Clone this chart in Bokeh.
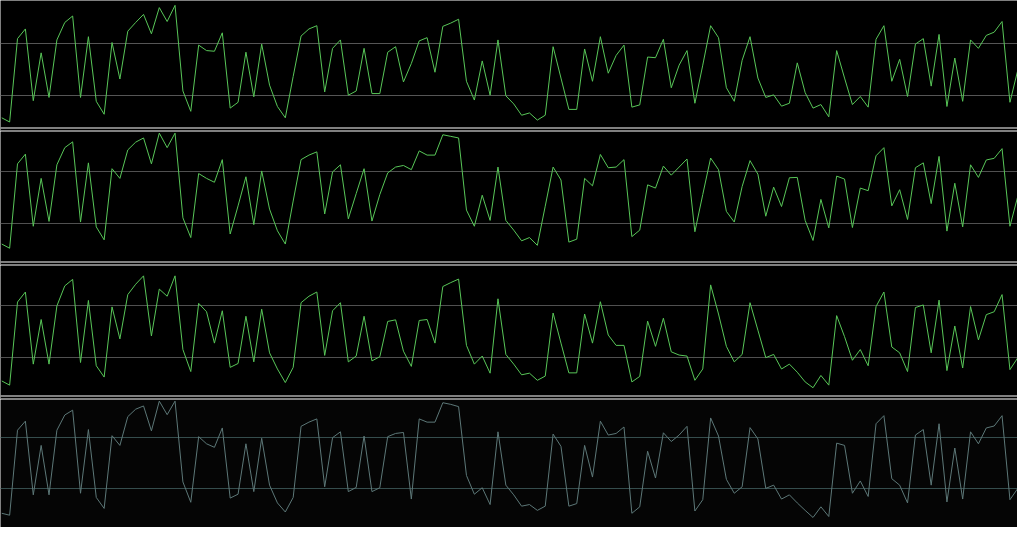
from bokeh.plotting import figure
from bokeh.layouts import column
from bokeh.models import FixedTicker, Range1d, BoxAnnotation
from bokeh.embed import file_html
from bokeh.resources import INLINE

# sample index along the horizontal axis
samples = list(range(130))

# four traces (arbitrary signal units)
series_1 = [57, 44, 302, 332, 110, 258, 120, 298, 352, 372,
            120, 308, 108, 68, 290, 177, 325, 352, 377, 317,
            398, 355, 405, 140, 77, 282, 265, 263, 320, 87,
            105, 260, 122, 285, 158, 92, 57, 185, 310, 332,
            342, 137, 272, 298, 127, 140, 272, 132, 132, 260,
            277, 168, 225, 295, 305, 198, 340, 350, 362, 170,
            112, 233, 127, 298, 125, 100, 65, 72, 50, 65,
            277, 180, 83, 83, 270, 170, 308, 195, 250, 282,
            90, 97, 245, 243, 300, 150, 220, 265, 102, 220,
            342, 305, 150, 108, 235, 308, 180, 120, 128, 93,
            102, 227, 135, 87, 98, 60, 265, 180, 98, 123,
            90, 300, 342, 170, 238, 123, 285, 302, 155, 315,
            92, 242, 108, 298, 272, 312, 322, 355, 105, 205]

series_2 = [57, 44, 305, 335, 112, 260, 127, 302, 355, 373,
            125, 308, 110, 70, 290, 260, 348, 372, 385, 305,
            400, 355, 400, 138, 77, 275, 260, 248, 318, 88,
            175, 265, 117, 283, 165, 98, 57, 190, 318, 332,
            342, 150, 280, 302, 135, 213, 290, 128, 210, 277,
            295, 300, 287, 345, 332, 332, 395, 390, 385, 162,
            112, 208, 130, 295, 130, 100, 67, 77, 53, 174,
            295, 255, 63, 72, 260, 237, 334, 293, 295, 318,
            80, 100, 240, 230, 298, 270, 295, 320, 95, 210,
            323, 287, 158, 125, 235, 315, 273, 143, 233, 173,
            262, 263, 130, 68, 195, 107, 267, 258, 108, 230,
            222, 330, 355, 175, 225, 133, 293, 308, 182, 328,
            97, 245, 110, 302, 263, 317, 322, 352, 112, 205]

series_3 = [48, 35, 292, 323, 100, 238, 100, 280, 342, 362,
            105, 297, 95, 60, 277, 178, 315, 347, 373, 187,
            332, 310, 373, 145, 77, 288, 262, 165, 265, 90,
            102, 248, 107, 270, 135, 85, 43, 90, 290, 310,
            323, 127, 265, 290, 107, 125, 248, 110, 123, 232,
            237, 140, 93, 235, 238, 165, 340, 352, 363, 158,
            100, 125, 72, 302, 130, 100, 67, 72, 50, 63,
            258, 165, 73, 73, 255, 165, 293, 190, 158, 158,
            45, 62, 233, 155, 242, 138, 128, 125, 50, 85,
            345, 255, 155, 107, 130, 290, 205, 120, 130, 85,
            100, 75, 45, 27, 65, 35, 250, 185, 112, 145,
            95, 278, 323, 153, 135, 77, 275, 283, 135, 298,
            80, 218, 88, 278, 175, 253, 262, 315, 83, 120]

series_4 = [53, 47, 310, 338, 110, 263, 110, 310, 357, 372,
            115, 312, 102, 68, 293, 263, 352, 375, 385, 308,
            400, 358, 400, 150, 87, 290, 268, 257, 317, 100,
            112, 268, 120, 285, 140, 85, 57, 102, 322, 335,
            345, 135, 287, 305, 120, 133, 292, 120, 132, 290,
            300, 303, 97, 345, 335, 335, 395, 390, 383, 170,
            112, 132, 80, 305, 140, 110, 75, 80, 62, 75,
            298, 260, 75, 83, 263, 165, 338, 295, 300, 320,
            53, 73, 245, 162, 302, 275, 295, 322, 60, 95,
            348, 292, 158, 115, 135, 318, 283, 130, 140, 97,
            110, 85, 62, 40, 73, 43, 270, 263, 115, 153,
            105, 330, 355, 160, 140, 85, 295, 312, 140, 330,
            88, 255, 97, 305, 268, 317, 323, 355, 95, 130]

# reference levels (horizontal rules) per panel
levels_1 = [125, 288]
levels_2 = [122, 281]
levels_3 = [122, 281]
levels_4 = [131, 287]

W = 1017
SEP = 4  # white / black / black / white rule under a panel, in pixels
panels = [
    dict(data=series_1, levels=levels_1, yr=(27, 420), h=127, sep=True,
         line="#58c658", grid="#555555", bg="#000000"),
    dict(data=series_2, levels=levels_2, yr=(3, 405), h=130, sep=True,
         line="#58c658", grid="#505050", bg="#000000"),
    dict(data=series_3, levels=levels_3, yr=(3, 405), h=130, sep=True,
         line="#58c658", grid="#505050", bg="#000000"),
    dict(data=series_4, levels=levels_4, yr=(9, 405), h=128, sep=False,
         line="#5d7878", grid="#354d4d", bg="#050505"),
]


def make_panel(cfg):
    y0, y1 = cfg["yr"]
    h = cfg["h"]
    extra = SEP if cfg["sep"] else 0
    u = (y1 - y0) / h  # data units per pixel
    p = figure(width=W, height=h + extra, output_backend="svg",
               toolbar_location=None,
               x_range=Range1d(-0.16, 128.96),
               y_range=Range1d(y0 - extra * u, y1),
               min_border=0, min_border_left=0, min_border_right=0,
               min_border_top=0, min_border_bottom=0,
               background_fill_color=cfg["bg"], border_fill_color=cfg["bg"],
               outline_line_color=None)
    p.axis.visible = False
    p.xgrid.visible = False
    p.ygrid.ticker = FixedTicker(ticks=cfg["levels"])
    p.ygrid.grid_line_color = cfg["grid"]
    p.ygrid.grid_line_width = 1
    if cfg["sep"]:
        # double white rule below the panel
        p.add_layout(BoxAnnotation(bottom=y0 - u, top=y0, fill_color="#ffffff",
                                   fill_alpha=1, line_color=None))
        p.add_layout(BoxAnnotation(bottom=y0 - 4 * u, top=y0 - 3 * u,
                                   fill_color="#ffffff", fill_alpha=1, line_color=None))
    p.line(samples, cfg["data"], line_color=cfg["line"], line_width=1)
    return p


layout = column(*[make_panel(cfg) for cfg in panels], spacing=0)

open("out.html", "w").write(file_html(layout, INLINE))
